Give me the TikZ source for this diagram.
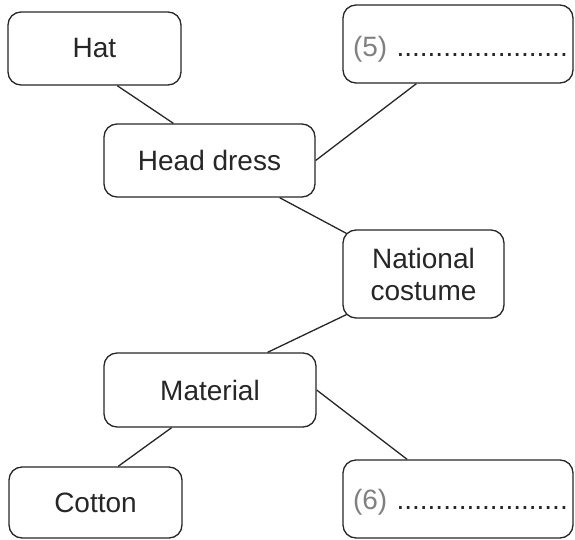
\documentclass[tikz,border=0pt]{standalone}
\usepackage{fontspec}
\setmainfont{Liberation Sans}
\usepackage{tikz}
\usetikzlibrary{calc,positioning}

\begin{document}
\begin{tikzpicture}[x=1pt,y=-1pt,
  kasten/.style={draw=black!85,line width=1.3pt,rounded corners=13pt,inner sep=0pt,
    text=black!85,font=\fontsize{28}{32}\selectfont,align=center},
  luecke/.style={kasten,minimum width=230pt,minimum height=78pt,text width=210pt,align=left,text depth=0pt},
  linie/.style={black!85,line width=1.3pt}]
\useasboundingbox (0,0) rectangle (575,540);
%Kaesten: Mitte in Bildpixeln, y nach unten
\node[kasten,minimum width=173pt,minimum height=73pt] (hat) at (94.5,48.5) {Hat};
\node[luecke,text height=26pt] (fuenf) at (458,44) {\textcolor{gray}{(5)}~......................};
\node[kasten,minimum width=211pt,minimum height=73pt] (kopf) at (209.5,160.5) {Head dress};
\node[kasten,minimum width=161pt,minimum height=88pt] (tracht) at (423.5,274) {National\\costume};
\node[kasten,minimum width=212pt,minimum height=74pt] (stoff) at (210,390) {Material};
\node[kasten,minimum width=173pt,minimum height=71pt] (baumwolle) at (95.5,502.5) {Cotton};
\node[luecke,text height=20pt] (sechs) at (458,499) {\textcolor{gray}{(6)}~......................};
%Verbindungen
\draw[linie] ($(hat.south west)!0.63!(hat.south east)$) -- ($(kopf.north west)!0.33!(kopf.north east)$);
\draw[linie] (kopf.east) -- ($(fuenf.south west)!0.32!(fuenf.south east)$);
\draw[linie] ($(kopf.south west)!0.83!(kopf.south east)$) -- ($(tracht.north west)+(4,4)$);
\draw[linie] ($(tracht.south west)+(4,-4)$) -- ($(stoff.north west)!0.77!(stoff.north east)$);
\draw[linie] ($(stoff.south west)!0.32!(stoff.south east)$) -- ($(baumwolle.north west)!0.63!(baumwolle.north east)$);
\draw[linie] (stoff.east) -- ($(sechs.north west)!0.28!(sechs.north east)$);
\end{tikzpicture}
\end{document}
